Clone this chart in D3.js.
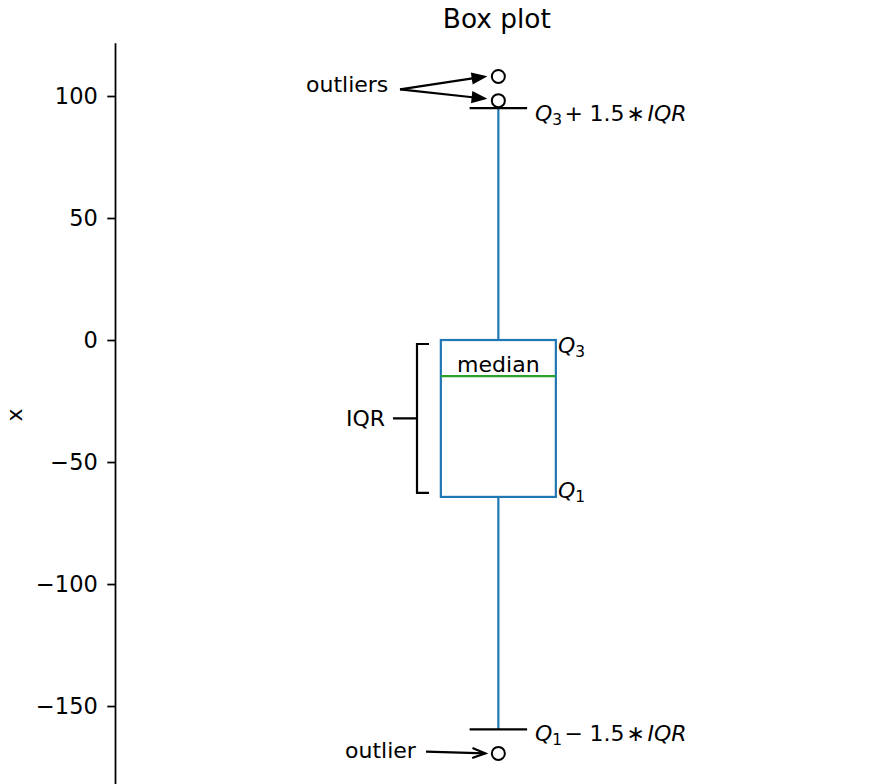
<!DOCTYPE html>
<html>
<head>
<meta charset="utf-8">
<script src="https://cdn.jsdelivr.net/npm/d3@7"></script>
<style>
  html, body { margin: 0; padding: 0; background: #fff; }
  svg { display: block; font-family: "DejaVu Sans", sans-serif; }
</style>
</head>
<body>
<svg id="chart" width="871" height="784"></svg>
<script>
// Five-number summary of the sample, plus the points beyond the whiskers
const positions = [1];
const quartile1 = [-64.3];
const medians = [-14.8];
const quartile3 = [0.0];
const whiskerLow = [-159.6];
const whiskerHigh = [95.0];
const fliers = [108.0, 98.1, -169.4];
const yTicks = [-150, -100, -50, 0, 50, 100];

const margin = { left: 115, top: 42.8 };
const plotRight = 881.7, plotBottom = 787.3;
const boxWidth = 0.15;

const BLUE = "#1f77b4", GREEN = "#2ca02c";
const FS = 22;

const svg = d3.select("#chart");

const x = d3.scaleLinear().domain([0.5, 1.5]).range([margin.left, plotRight]);
const y = d3.scaleLinear().domain([-183.3, 121.8]).range([plotBottom, margin.top]);

// Left axis only
const yAxis = d3.axisLeft(y).tickValues(yTicks).tickSize(7.7).tickSizeOuter(0).tickPadding(9.5);
const ga = svg.append("g").attr("transform", `translate(${margin.left},0)`).call(yAxis);
ga.select(".domain").attr("stroke", "#000").attr("stroke-width", 1.76);
ga.selectAll(".tick line").attr("stroke", "#000").attr("stroke-width", 1.76);
ga.selectAll(".tick text").attr("fill", "#000").style("font-size", "22.5px")
  .style("font-family", "DejaVu Sans");

// Axis label
svg.append("text")
  .attr("transform", `translate(22,${(margin.top + plotBottom) / 2}) rotate(-90)`)
  .attr("text-anchor", "middle").style("font-size", FS + "px").text("x");

// Title
svg.append("text")
  .attr("x", (margin.left + plotRight) / 2 - 1.5).attr("y", 28)
  .attr("text-anchor", "middle").style("font-size", "26.4px").text("Box plot");

// Box, whiskers, caps and median
const boxes = positions.map((p, i) => ({
  p, q1: quartile1[i], med: medians[i], q3: quartile3[i], lo: whiskerLow[i], hi: whiskerHigh[i]
}));
const gb = svg.append("g");
boxes.forEach(b => {
  const cx = x(b.p), x0 = x(b.p - boxWidth / 2), x1 = x(b.p + boxWidth / 2);
  const c0 = x(b.p - boxWidth / 4), c1 = x(b.p + boxWidth / 4);
  gb.append("line").attr("x1", cx).attr("x2", cx).attr("y1", y(b.q3)).attr("y2", y(b.hi))
    .attr("stroke", BLUE).attr("stroke-width", 2.2);
  gb.append("line").attr("x1", cx).attr("x2", cx).attr("y1", y(b.q1)).attr("y2", y(b.lo))
    .attr("stroke", BLUE).attr("stroke-width", 2.2);
  gb.append("rect").attr("x", x0).attr("y", y(b.q3)).attr("width", x1 - x0)
    .attr("height", y(b.q1) - y(b.q3)).attr("fill", "none")
    .attr("stroke", BLUE).attr("stroke-width", 2.2);
  gb.append("line").attr("x1", x0).attr("x2", x1).attr("y1", y(b.med)).attr("y2", y(b.med))
    .attr("stroke", GREEN).attr("stroke-width", 2.2);
  [b.lo, b.hi].forEach(v => {
    gb.append("line").attr("x1", c0).attr("x2", c1).attr("y1", y(v)).attr("y2", y(v))
      .attr("stroke", "#000").attr("stroke-width", 2.2);
  });
});

// Flier points
gb.selectAll("circle.flier").data(fliers).join("circle")
  .attr("class", "flier")
  .attr("cx", x(positions[0])).attr("cy", d => y(d)).attr("r", 6.5)
  .attr("fill", "none").attr("stroke", "#000").attr("stroke-width", 2);

// ---- annotations ----
const ann = svg.append("g").style("font-size", FS + "px").attr("fill", "#000");
const cx = x(positions[0]);

function arrow(x1, y1, x2, y2, filled) {
  const ang = Math.atan2(y2 - y1, x2 - x1);
  const L = 13, Wd = 5;
  const bx = x2 - L * Math.cos(ang), by = y2 - L * Math.sin(ang);
  const px = -Math.sin(ang) * Wd, py = Math.cos(ang) * Wd;
  if (filled) {
    ann.append("line").attr("x1", x1).attr("y1", y1).attr("x2", bx).attr("y2", by)
      .attr("stroke", "#000").attr("stroke-width", 2.2);
    ann.append("path")
      .attr("d", `M${x2},${y2}L${bx + px},${by + py}L${bx - px},${by - py}Z`)
      .attr("fill", "#000").attr("stroke", "#000").attr("stroke-width", 1.5)
      .attr("stroke-linejoin", "miter");
  } else {
    ann.append("line").attr("x1", x1).attr("y1", y1).attr("x2", x2).attr("y2", y2)
      .attr("stroke", "#000").attr("stroke-width", 2.2);
    ann.append("path")
      .attr("d", `M${bx + px},${by + py}L${x2},${y2}L${bx - px},${by - py}`)
      .attr("fill", "none").attr("stroke", "#000").attr("stroke-width", 2.2);
  }
}

// Math-style label: italic Q with a subscript, optional "± 1.5∗IQR" tail
function mathLabel(x0, base, sub, op) {
  const t = ann.append("text").attr("y", base);
  t.append("tspan").attr("x", x0 - 1).style("font-style", "italic").text("Q");
  t.append("tspan").attr("dy", 4).style("font-size", "15.4px").text(sub);
  if (op) {
    t.append("tspan").attr("x", x0 + 28.5).attr("dy", -4).text(op);
    t.append("tspan").attr("x", x0 + 53.5).text("1.5");
    t.append("tspan").attr("x", x0 + 90.5).text("\u2217");
    t.append("tspan").attr("x", x0 + 111.5).style("font-style", "italic").text("IQR");
  }
}

// outliers (upper)
ann.append("text").attr("x", 306).attr("y", 91.7).text("outliers");
arrow(400, 89.3, cx - 13, y(fliers[0]), true);
arrow(400, 89.3, cx - 13, y(fliers[1]) - 2, true);

// outlier (lower)
ann.append("text").attr("x", 345).attr("y", 758).text("outlier");
arrow(426, 751.7, cx - 13, y(fliers[2]), false);

// whisker limits
mathLabel(536, y(whiskerHigh[0]) + 12.7, "3", "+");
mathLabel(536, y(whiskerLow[0]) + 11.7, "1", "\u2212");

// quartile labels
mathLabel(559, y(quartile3[0]) + 13, "3", null);
mathLabel(559, y(quartile1[0]) + 1, "1", null);

// median label
ann.append("text").attr("x", cx).attr("y", y(medians[0]) - 4.3)
  .attr("text-anchor", "middle").text("median");

// IQR bracket
const bTop = y(quartile3[0]) + 4, bBot = y(quartile1[0]) - 4, bMid = (bTop + bBot) / 2;
ann.append("path")
  .attr("d", `M429,${bTop}H417V${bBot}H429M393,${bMid}H417`)
  .attr("fill", "none").attr("stroke", "#000").attr("stroke-width", 2.2);
ann.append("text").attr("x", 385).attr("y", bMid + 7.5)
  .attr("text-anchor", "end").text("IQR");
</script>
</body>
</html>
